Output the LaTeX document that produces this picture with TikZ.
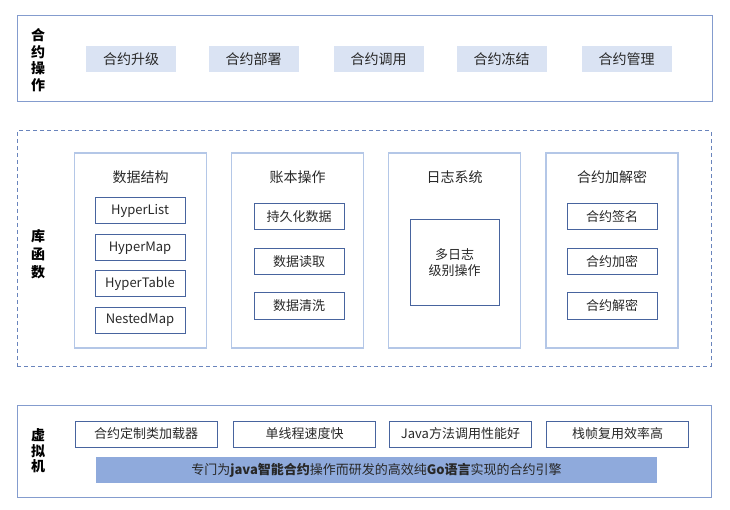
\documentclass[tikz,border=0pt]{standalone}
\usepackage{fontspec}
\setmainfont{Noto Sans CJK SC}
\definecolor{obox}{RGB}{132,156,206}
\definecolor{dbox}{RGB}{105,132,188}
\definecolor{pborder}{RGB}{180,199,231}
\definecolor{iborder}{RGB}{72,100,158}
\definecolor{btnfill}{RGB}{218,227,243}
\definecolor{barfill}{RGB}{143,170,220}
\definecolor{txt}{RGB}{40,40,40}
\tikzset{
  outerbox/.style={draw=obox, line width=1pt, inner sep=0},
  dashbox/.style={draw=dbox, dash pattern=on 4pt off 3pt, line width=1pt, inner sep=0},
  btn/.style={fill=btnfill, minimum width=90, minimum height=26, inner sep=0, font=\fontsize{14}{16}\selectfont, text=txt},
  panel/.style={draw=pborder, line width=1.1pt, minimum width=132, minimum height=195, inner sep=0},
  ptitle/.style={font=\fontsize{14}{16}\selectfont, text=txt},
  itembox/.style={draw=iborder, line width=1pt, minimum width=90, minimum height=26, inner sep=0, font=\fontsize{13}{15}\selectfont, text=txt},
  vmbox/.style={itembox, minimum width=142},
  sidelbl/.style={font=\bfseries\fontsize{14}{16.5}\selectfont, align=center, text=black},
}
\begin{document}
\begin{tikzpicture}[x=1pt, y=-1pt]
\useasboundingbox (0,0) rectangle (730,510);
% top layer
\node[outerbox, minimum width=695, minimum height=86] (top) at (364.5,59) {};
\node[sidelbl] (l1) at (38,60) {合\\约\\操\\作};
\node[btn] (b1) at (131,59) {合约升级};
\node[btn] (b2) at (253.5,59) {合约部署};
\node[btn] (b3) at (378.5,59) {合约调用};
\node[btn] (b4) at (501.5,59) {合约冻结};
\node[btn] (b5) at (626.5,59) {合约管理};
% middle layer
\node[dashbox, minimum width=694, minimum height=235] (mid) at (364,248.5) {};
\node[sidelbl, font=\bfseries\fontsize{14}{18}\selectfont] (l2) at (38,254) {库\\函\\数};
\node[panel] (p1) at (140.5,250.5) {};
\node[panel] (p2) at (297.5,250.5) {};
\node[panel] (p3) at (454.5,250.5) {};
\node[panel] (p4) at (612,250.5) {};
\node[ptitle] (t1) at (140.5,177) {数据结构};
\node[ptitle] (t2) at (297.5,177) {账本操作};
\node[ptitle] (t3) at (454.5,177) {日志系统};
\node[ptitle] (t4) at (612,177) {合约加解密};
\node[itembox] (d1) at (140,211) {HyperList};
\node[itembox] (d2) at (140,248) {HyperMap};
\node[itembox] (d3) at (140,284) {HyperTable};
\node[itembox] (d4) at (140,320) {NestedMap};
\node[itembox] (a1) at (299,217) {持久化数据};
\node[itembox] (a2) at (299,262) {数据读取};
\node[itembox] (a3) at (299,306) {数据清洗};
\node[itembox, minimum width=89, minimum height=85, align=center, font=\fontsize{13}{16}\selectfont] (g1) at (454.5,262.5) {多日志\\级别操作};
\node[itembox] (c1) at (612,217) {合约签名};
\node[itembox] (c2) at (612,262) {合约加密};
\node[itembox] (c3) at (612,306) {合约解密};
% bottom layer
\node[outerbox, minimum width=694, minimum height=92] (bot) at (364,451) {};
\node[sidelbl, font=\bfseries\fontsize{14}{15.5}\selectfont] (l3) at (38,451) {虚\\拟\\机};
\node[vmbox] (v1) at (146,434) {合约定制类加载器};
\node[vmbox] (v2) at (304.5,434) {单线程速度快};
\node[vmbox] (v3) at (460.5,434) {Java方法调用性能好};
\node[vmbox] (v4) at (617.5,434) {栈帧复用效率高};
\node[fill=barfill, minimum width=561, minimum height=26, inner sep=0, font=\fontsize{13}{15}\selectfont, text=txt] (bar) at (376.5,470) {专门为\textbf{java智能合约}操作而研发的高效纯\textbf{Go语言}实现的合约引擎};
\end{tikzpicture}
\end{document}
